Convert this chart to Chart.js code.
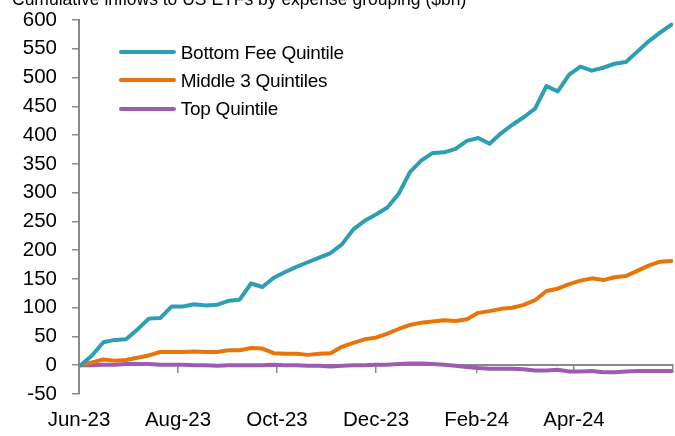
<!DOCTYPE html>
<html><head><meta charset="utf-8">
<script src="https://cdn.jsdelivr.net/npm/chart.js@4"></script>
<style>
html,body{margin:0;padding:0;background:#fff;overflow:hidden}
#wrap{position:relative;width:675px;height:436px;font-family:'Liberation Sans',Arial,sans-serif;color:#000}
#c{position:absolute;left:0;top:0}
#title{position:absolute;left:12px;top:-11px;font-size:17.5px;line-height:20px;white-space:nowrap}
.row{position:absolute;left:119px;height:20px;white-space:nowrap;font-size:19px;line-height:20px;letter-spacing:-0.25px}
.sw{position:absolute;left:0;top:7.6px;width:57px;height:4px;border-radius:2px}
.lt{position:absolute;left:61.7px;top:0}
</style></head>
<body><div id="wrap"><canvas id="c" width="675" height="436"></canvas><div id="title">Cumulative inflows to US ETFs by expense grouping ($bn)</div><div id="legend"></div></div>
<script>
const dates = ['2023-06-02','2023-06-09','2023-06-16','2023-06-23','2023-06-30',
 '2023-07-07','2023-07-14','2023-07-21','2023-07-28',
 '2023-08-04','2023-08-11','2023-08-18','2023-08-25',
 '2023-09-01','2023-09-08','2023-09-15','2023-09-22','2023-09-29',
 '2023-10-06','2023-10-13','2023-10-20','2023-10-27',
 '2023-11-03','2023-11-10','2023-11-17','2023-11-24',
 '2023-12-01','2023-12-08','2023-12-15','2023-12-22','2023-12-29',
 '2024-01-05','2024-01-12','2024-01-19','2024-01-26',
 '2024-02-02','2024-02-09','2024-02-16','2024-02-23',
 '2024-03-01','2024-03-08','2024-03-15','2024-03-22','2024-03-29',
 '2024-04-05','2024-04-12','2024-04-19','2024-04-26',
 '2024-05-03','2024-05-10','2024-05-17','2024-05-24','2024-05-31'];
const bottomFee = [0,17,40,44,45,62,81,82,102,102,106,104,105,112,114,142,136,152,162,171,179,187,195,210,236,251,262,274,298,336,356,369,370,376,390,395,385,403,418,431,446,485,476,505,519,512,517,524,527,545,563,578,592];
const middle3 = [0,5,10,8,9,13,17,23,23,23,24,23,23,26,26,30,29,21,20,20,18,20,21,32,39,45,48,55,63,70,74,76,78,77,80,91,94,98,100,105,113,129,133,141,147,151,148,153,155,164,173,180,181];
const topQ = [0,0,1,1,2,2,2,1,1,1,0,0,-1,0,0,0,0,1,0,0,-1,-1,-2,-1,0,0,1,1,2,3,3,2,1,-1,-3,-5,-6,-6,-6,-7,-9,-9,-8,-11,-11,-10,-12,-12,-11,-10,-10,-10,-10];
const seriesNames = ['Bottom Fee Quintile','Middle 3 Quintiles','Top Quintile'];
const seriesColors = ['#2E9EB5','#E8740C','#9E5BB3'];
const axisStart = '2023-06-01';
const axisEnd = '2024-06-01';
const tickDates = ['2023-06-01','2023-08-01','2023-10-01','2023-12-01','2024-02-01','2024-04-01','2024-06-01'];
const tickLabels = ['Jun-23','Aug-23','Oct-23','Dec-23','Feb-24','Apr-24'];
const yMin = -50, yMax = 600, yStep = 50;

const FONT = "'Liberation Sans', Arial, sans-serif";
const dayMs = 86400000;
const dayOf = s => Math.round((Date.parse(s + 'T00:00:00Z') - Date.parse(axisStart + 'T00:00:00Z')) / dayMs);
const xMax = dayOf(axisEnd);
const tickDays = tickDates.map(dayOf);
const labelDays = tickDays.slice(0, tickLabels.length);
const labelFor = v => { const i = labelDays.indexOf(v); return i >= 0 ? tickLabels[i] : ''; };

const seriesValues = [bottomFee, middle3, topQ];
const datasets = seriesValues.map((vals, k) => ({
  label: seriesNames[k],
  data: vals.map((v, i) => ({x: dayOf(dates[i]), y: v})),
  borderColor: seriesColors[k],
  backgroundColor: seriesColors[k],
  borderWidth: 4,
  pointRadius: 0,
  tension: 0,
  borderCapStyle: 'round',
  borderJoinStyle: 'round',
  fill: false,
  xAxisID: 'x',
  yAxisID: 'y'
}));

// HTML legend built from datasets
const leg = document.getElementById('legend');
datasets.forEach((d, k) => {
  const row = document.createElement('div');
  row.className = 'row';
  row.style.top = (42.7 + 28.2 * k) + 'px';
  const sw = document.createElement('div'); sw.className = 'sw'; sw.style.background = d.borderColor;
  const t = document.createElement('div'); t.className = 'lt'; t.textContent = d.label;
  row.appendChild(sw); row.appendChild(t); leg.appendChild(row);
});

const AXIS = '#8a8a8a';
new Chart(document.getElementById('c'), {
  type: 'line',
  data: {datasets},
  options: {
    responsive: false,
    animation: false,
    devicePixelRatio: 1,
    layout: {padding: {top: 20, right: 2, left: 0, bottom: 0}},
    plugins: {legend: {display: false}, tooltip: {enabled: false}, title: {display: false}},
    scales: {
      x: {
        type: 'linear', min: 0, max: xMax,
        position: {y: 0},
        afterBuildTicks: s => { s.ticks = tickDays.map(v => ({value: v})); },
        afterFit: s => { s.paddingLeft = 0; s.paddingRight = 0; },
        grid: {display: true, drawOnChartArea: false, drawTicks: true, tickLength: 7, color: AXIS, lineWidth: 1.5},
        border: {display: true, color: AXIS, width: 2},
        ticks: {display: false}
      },
      x2: {
        type: 'linear', min: 0, max: xMax,
        position: 'bottom',
        afterBuildTicks: s => { s.ticks = labelDays.map(v => ({value: v})); },
        afterFit: s => { s.height = 42; s.paddingRight = 0; },
        grid: {display: false, drawTicks: false},
        border: {display: false},
        ticks: {callback: v => labelFor(v), font: {family: FONT, size: 20.5}, color: '#000', padding: 14, maxRotation: 0, autoSkip: false}
      },
      y: {
        min: yMin, max: yMax,
        position: 'left',
        afterFit: s => { s.width = 79; s.paddingTop = 8; s.paddingBottom = 8; },
        ticks: {stepSize: yStep, font: {family: FONT, size: 20.5}, color: '#000', padding: 15},
        grid: {display: true, drawOnChartArea: false, drawTicks: true, tickLength: 7, color: AXIS, lineWidth: 1.5},
        border: {display: true, color: AXIS, width: 2}
      }
    }
  }
});
</script>
</body></html>
